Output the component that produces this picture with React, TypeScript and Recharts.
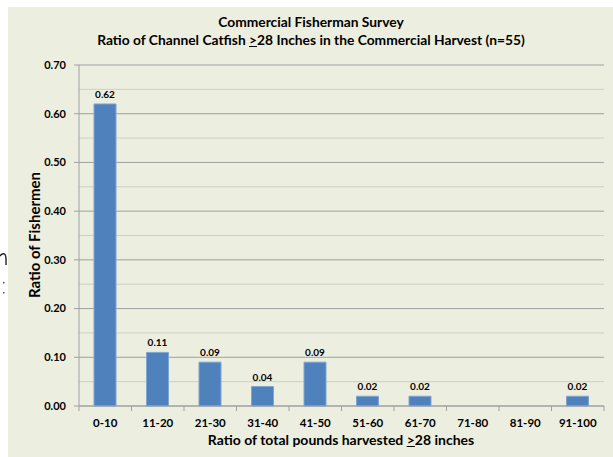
import React from 'react';
import { BarChart, Bar, XAxis, YAxis, CartesianGrid, LabelList } from 'recharts';

const categories = ['0-10', '11-20', '21-30', '31-40', '41-50', '51-60', '61-70', '71-80', '81-90', '91-100'];
const ratios = [0.62, 0.11, 0.09, 0.04, 0.09, 0.02, 0.02, 0, 0, 0.02];
const yTicks = [0, 0.1, 0.2, 0.3, 0.4, 0.5, 0.6, 0.7];
const minorTicks = [0.05, 0.15, 0.25, 0.35, 0.45, 0.55, 0.65];

const data = categories.map((range, i) => ({ range, ratio: ratios[i] }));

const FONT = 'Lato, "Open Sans", sans-serif';
const AXIS = '#A0A0A0';
const BAND = 525 / categories.length;

const XTick = (props: any) => {
  const { x, y, payload, index } = props;
  const half = BAND / 2;
  return (
    <g>
      <line x1={x - half} y1={y} x2={x - half} y2={y + 5} stroke={AXIS} />
      {index === categories.length - 1 && (
        <line x1={x + half} y1={y} x2={x + half} y2={y + 5} stroke={AXIS} />
      )}
      <text x={x} y={y + 21} textAnchor="middle" fill="#000" fontSize={11.5} fontWeight={700} fontFamily={FONT}>
        {payload.value}
      </text>
    </g>
  );
};

const App: React.FC = () => {
  return (
    <div style={{ position: 'absolute', left: 0, top: 0, width: 613, height: 457, background: '#fff', overflow: 'hidden' }}>
      <svg style={{ position: 'absolute', left: 0, top: 240 }} width={8} height={60}>
        <path d="M0,16 Q2,13 4.5,14 Q6,15 6,19 L6,25" fill="none" stroke="#222" strokeWidth={1.4} />
        <rect x={3} y={42} width={1.5} height={1.5} fill="#555" />
        <rect x={3} y={52} width={1.5} height={1.5} fill="#555" />
      </svg>
      <div style={{ position: 'absolute', left: 8, top: 7, width: 605, height: 450, background: '#ECEEDF' }}>
        <BarChart width={605} height={450} data={data} margin={{ top: 58, right: 9, left: 0, bottom: 0 }}>
          <CartesianGrid vertical={false} horizontalValues={minorTicks} stroke="#CDD0C3" />
          <CartesianGrid vertical={false} stroke={AXIS} />
          <XAxis
            dataKey="range"
            interval={0}
            height={51}
            stroke={AXIS}
            tickLine={false}
            tickSize={0}
            tickMargin={0}
            tick={<XTick />}
          />
          <YAxis
            width={71}
            domain={[0, 0.7]}
            ticks={yTicks}
            stroke={AXIS}
            tickSize={5}
            tickMargin={8}
            tickFormatter={(v: number) => v.toFixed(2)}
            tick={{ fill: '#000', fontSize: 11, fontWeight: 700, fontFamily: FONT }}
          />
          <Bar dataKey="ratio" fill="#4F81BD" stroke="#7FA5D3" barSize={22} isAnimationActive={false}>
            <LabelList
              dataKey="ratio"
              position="top"
              offset={6}
              formatter={(v: any) => (Number(v) > 0 ? Number(v).toFixed(2) : '')}
              fill="#000"
              fontSize={10}
              fontWeight={700}
              fontFamily={FONT}
            />
          </Bar>
        </BarChart>
      </div>
      <div style={{ position: 'absolute', left: 0, top: 13, width: 622, textAlign: 'center', fontFamily: FONT, fontWeight: 700, fontSize: 13.8, lineHeight: '18px', color: '#000' }}>
        <div>Commercial Fisherman Survey</div>
        <div>Ratio of Channel Catfish <u>&gt;</u>28 Inches in the Commercial Harvest (n=55)</div>
      </div>
      <div style={{ position: 'absolute', left: 141, top: 432, width: 400, textAlign: 'center', fontFamily: FONT, fontWeight: 700, fontSize: 14, lineHeight: '16px', color: '#000' }}>
        Ratio of total pounds harvested <u>&gt;</u>28 inches
      </div>
      <div style={{ position: 'absolute', left: 34 - 100, top: 235 - 9, width: 200, textAlign: 'center', transform: 'rotate(-90deg)', fontFamily: FONT, fontWeight: 700, fontSize: 15, lineHeight: '18px', color: '#000' }}>
        Ratio of Fishermen
      </div>
    </div>
  );
};

export default App;
